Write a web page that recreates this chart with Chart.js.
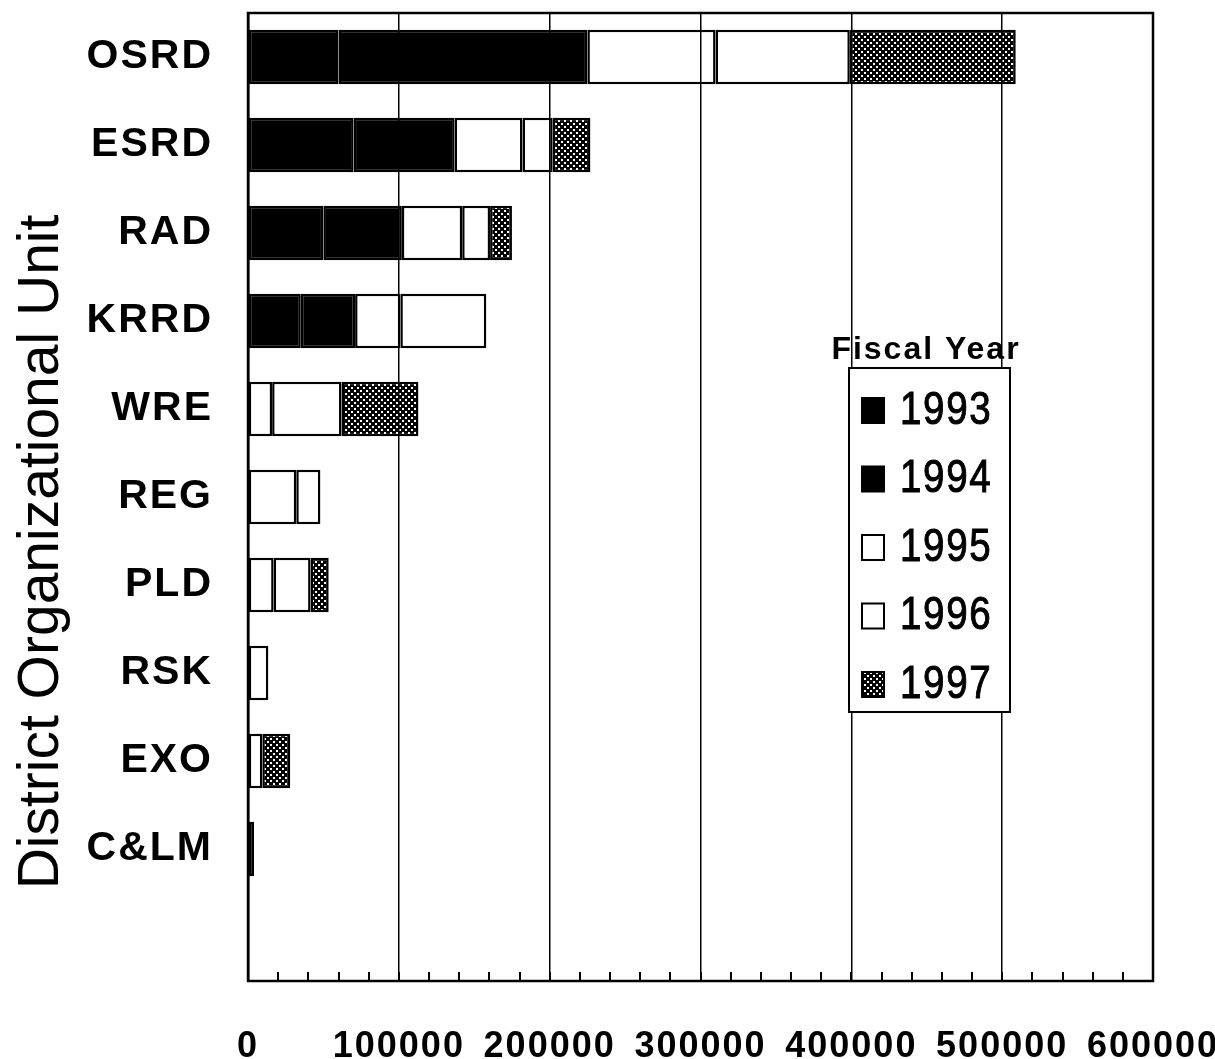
<!DOCTYPE html>
<html>
<head>
<meta charset="utf-8">
<script src="https://cdn.jsdelivr.net/npm/chart.js@4.4.0/dist/chart.umd.min.js"></script>
<style>
  html, body { margin: 0; padding: 0; background: #fff; }
</style>
</head>
<body>
<canvas id="graficoUnidades" width="1215" height="1059"></canvas>
<script>
// Unidades (eixo Y) - o último espaço fica vazio como no original
const unidades = ['OSRD', 'ESRD', 'RAD', 'KRRD', 'WRE', 'REG', 'PLD', 'RSK', 'EXO', 'C&LM', ''];

// Valores por ano fiscal
const ano1993 = [60000, 70000, 50000, 35000, null, null, null, null, null, 4000, null];
const ano1994 = [165000, 67000, 52000, 36000, null, null, null, null, null, null, null];
const ano1995 = [85000, 45000, 40000, 30000, 16000, 32000, 17000, 13500, 9500, null, null];
const ano1996 = [89000, 20000, 18500, 57000, 46000, 16000, 24500, null, null, null, null];
const ano1997 = [110000, 25000, 14500, null, 51000, null, 12000, null, 18500, null, null];

const anos = ['1993', '1994', '1995', '1996', '1997'];
const marcasX = [0, 100000, 200000, 300000, 400000, 500000, 600000];

const fonte = '"Liberation Sans", Arial, sans-serif';

// textura quadriculada escura do ano 1997
function criaTextura() {
    const c = document.createElement('canvas');
    c.width = 6; c.height = 6;
    const g = c.getContext('2d');
    g.fillStyle = '#000';
    g.fillRect(0, 0, 6, 6);
    g.fillStyle = '#fff';
    g.fillRect(0, 0, 2, 2);
    g.fillRect(3, 3, 2, 2);
    return g.createPattern(c, 'repeat');
}
const textura = criaTextura();
const cores = ['#000', '#000', '#fff', '#fff', textura];

// moldura, traços menores, título do eixo Y e legenda
const extras = {
    id: 'extras',
    beforeDraw(chart) {
        chart.ctx.letterSpacing = '2px';
    },
    afterDraw(chart) {
        const ctx = chart.ctx;
        const area = chart.chartArea;
        const x = chart.scales.x;
        ctx.save();
        ctx.letterSpacing = '0px';
        ctx.strokeStyle = '#000';

        // moldura
        ctx.lineWidth = 2.5;
        ctx.strokeRect(area.left, area.top, area.right - area.left, area.bottom - area.top);

        // traços menores do eixo X
        ctx.lineWidth = 2;
        ctx.beginPath();
        for (let v = 20000; v < 600000; v += 20000) {
            const px = Math.round(x.getPixelForValue(v));
            ctx.moveTo(px, area.bottom);
            ctx.lineTo(px, area.bottom - 9);
        }
        ctx.stroke();

        // título do eixo Y
        ctx.save();
        ctx.translate(42, 552);
        ctx.rotate(-Math.PI / 2);
        ctx.font = '57px ' + fonte;
        ctx.fillStyle = '#000';
        ctx.textAlign = 'center';
        ctx.textBaseline = 'middle';
        ctx.fillText('District Organizational Unit', 0, 0);
        ctx.restore();

        // legenda
        const bx = 849, by = 368, bw = 161, bh = 344;
        ctx.fillStyle = '#fff';
        ctx.fillRect(bx, by, bw, bh);
        ctx.lineWidth = 2;
        ctx.strokeRect(bx, by, bw, bh);

        ctx.letterSpacing = '2px';
        ctx.font = 'bold 32px ' + fonte;
        ctx.fillStyle = '#000';
        ctx.textAlign = 'center';
        ctx.textBaseline = 'alphabetic';
        ctx.fillText('Fiscal Year', 926, 359);

        chart.data.datasets.forEach((ds, i) => {
            const cy = 410 + i * 68.5;
            ctx.fillStyle = ds.backgroundColor;
            ctx.fillRect(862, cy - 12, 22, 25);
            ctx.lineWidth = 2;
            ctx.strokeRect(862, cy - 12, 22, 25);
            ctx.save();
            ctx.translate(900, cy + 1);
            ctx.scale(0.82, 1);
            ctx.letterSpacing = '2px';
            ctx.font = '47px ' + fonte;
            ctx.fillStyle = '#000';
            ctx.strokeStyle = '#000';
            ctx.lineWidth = 1;
            ctx.textAlign = 'left';
            ctx.textBaseline = 'middle';
            ctx.fillText(ds.label, 0, 0);
            ctx.strokeText(ds.label, 0, 0);
            ctx.restore();
        });
        ctx.restore();
    }
};

const series = [ano1993, ano1994, ano1995, ano1996, ano1997];

new Chart(document.getElementById('graficoUnidades'), {
    type: 'bar',
    data: {
        labels: unidades,
        datasets: anos.map((ano, i) => ({
            label: ano,
            data: series[i],
            backgroundColor: cores[i],
            borderColor: '#000',
            borderWidth: 2.5,
            borderSkipped: false,
            categoryPercentage: 1,
            barPercentage: 0.62
        }))
    },
    options: {
        indexAxis: 'y',
        responsive: false,
        animation: false,
        layout: { padding: { left: 0, right: 62, top: 13, bottom: 0 } },
        plugins: {
            legend: { display: false },
            tooltip: { enabled: false }
        },
        scales: {
            x: {
                stacked: true,
                min: 0,
                max: 600000,
                afterBuildTicks(scale) {
                    scale.ticks = marcasX.map(v => ({ value: v }));
                },
                afterFit(scale) {
                    scale.height = 1059 - 981;
                    scale.paddingLeft = 0;
                    scale.paddingRight = 0;
                },
                grid: {
                    z: 1,
                    color: '#000',
                    lineWidth: 1.5,
                    drawTicks: false
                },
                border: { display: false },
                ticks: {
                    autoSkip: false,
                    maxRotation: 0,
                    padding: 44,
                    color: '#000',
                    font: { family: fonte, size: 36, weight: 'bold' },
                    callback: v => String(v)
                }
            },
            y: {
                stacked: true,
                afterFit(scale) {
                    scale.width = 248;
                    scale.paddingTop = 0;
                    scale.paddingBottom = 0;
                },
                grid: { display: false },
                border: { color: '#000', width: 2.5 },
                ticks: {
                    padding: 27,
                    color: '#000',
                    font: { family: fonte, size: 41, weight: 'bold' }
                }
            }
        }
    },
    plugins: [extras]
});
</script>
</body>
</html>
